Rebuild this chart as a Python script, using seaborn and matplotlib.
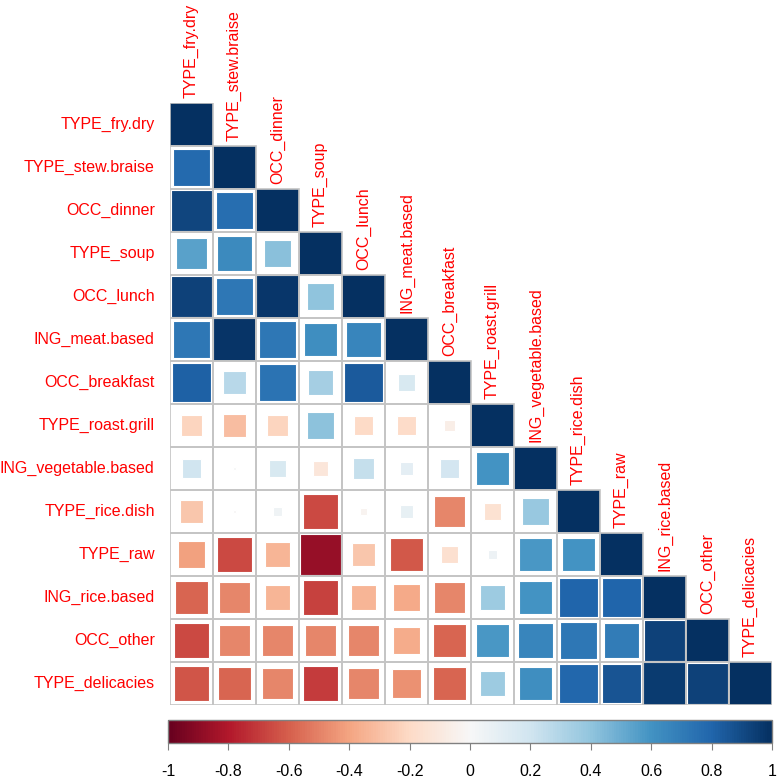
import numpy as np
import pandas as pd
import seaborn as sns
import matplotlib
matplotlib.use("Agg")
import matplotlib.pyplot as plt
from matplotlib.patches import Rectangle
from matplotlib.colors import ListedColormap, Normalize
from matplotlib.cm import ScalarMappable

labels = ["TYPE_fry.dry", "TYPE_stew.braise", "OCC_dinner", "TYPE_soup", "OCC_lunch",
          "ING_meat.based", "OCC_breakfast", "TYPE_roast.grill", "ING_vegetable.based",
          "TYPE_rice.dish", "TYPE_raw", "ING_rice.based", "OCC_other", "TYPE_delicacies"]

# lower-triangle correlations, one row per variable
r_fry_dry = [1.0]
r_stew_braise = [0.78, 1.0]
r_occ_dinner = [0.92, 0.76, 1.0]
r_soup = [0.54, 0.64, 0.42, 1.0]
r_occ_lunch = [0.93, 0.72, 0.97, 0.40, 1.0]
r_meat_based = [0.72, 0.98, 0.72, 0.62, 0.66, 1.0]
r_occ_breakfast = [0.82, 0.28, 0.74, 0.34, 0.84, 0.16, 1.0]
r_roast_grill = [-0.22, -0.31, -0.22, 0.41, -0.20, -0.19, -0.07, 1.0]
r_veg_based = [0.20, 0.005, 0.16, -0.12, 0.24, 0.10, 0.18, 0.60, 1.0]
r_rice_dish = [-0.28, -0.005, 0.04, -0.66, -0.03, 0.08, -0.49, -0.15, 0.38, 1.0]
r_raw = [-0.41, -0.66, -0.34, -0.87, -0.28, -0.62, -0.16, 0.05, 0.58, 0.60, 1.0]
r_rice_based = [-0.58, -0.49, -0.34, -0.68, -0.34, -0.38, -0.49, 0.36, 0.60, 0.80, 0.80, 1.0]
r_occ_other = [-0.66, -0.49, -0.49, -0.49, -0.49, -0.37, -0.58, 0.58, 0.66, 0.72, 0.70, 0.93, 1.0]
r_delicacies = [-0.63, -0.58, -0.49, -0.70, -0.49, -0.46, -0.58, 0.36, 0.62, 0.79, 0.86, 0.96, 0.93, 1.0]

rows = [r_fry_dry, r_stew_braise, r_occ_dinner, r_soup, r_occ_lunch, r_meat_based,
        r_occ_breakfast, r_roast_grill, r_veg_based, r_rice_dish, r_raw, r_rice_based,
        r_occ_other, r_delicacies]

n = len(labels)
mat = np.full((n, n), np.nan)
for i, row in enumerate(rows):
    for j, v in enumerate(row):
        mat[i, j] = v
        mat[j, i] = v
df = pd.DataFrame(mat, index=labels, columns=labels)
mask = np.triu(np.ones((n, n), dtype=bool), k=1)

sns.set_style("white")
plt.rcParams["font.family"] = ["Liberation Sans", "DejaVu Sans"]

fig = plt.figure(figsize=(7.77, 7.81), dpi=100)
W, H = 777, 781
ax = fig.add_axes([170 / W, (H - 705) / H, 602 / W, 602 / H])

# white background cells for the lower triangle
sns.heatmap(df, mask=mask, cmap=ListedColormap(["white"]), cbar=False,
            linewidths=0, ax=ax, square=False)

cmap = plt.get_cmap("RdBu")
norm = Normalize(-1, 1)
for i in range(n):
    for j in range(i + 1):
        v = df.iloc[i, j]
        s = np.sqrt(abs(v))
        ax.add_patch(Rectangle((j + 0.5 - s / 2, i + 0.5 - s / 2), s, s,
                               facecolor=cmap(norm(v)),
                               edgecolor="white" if i != j else "none",
                               linewidth=0.8, zorder=2))
        # grid cell border
        ax.add_patch(Rectangle((j, i), 1, 1, facecolor="none",
                               edgecolor="#c4c4c4", linewidth=1.2, zorder=3))

ax.set_xticks([])
ax.set_xlabel("")
ax.set_ylabel("")
ax.set_yticks(np.arange(n) + 0.5)
ax.set_yticklabels(labels, color="red", fontsize=11.5)
ax.tick_params(axis="y", length=0, pad=11)
for sp in ax.spines.values():
    sp.set_visible(False)

for j, lab in enumerate(labels):
    ax.text(j + 0.5, j - 0.12, lab, rotation=90, ha="center", va="bottom",
            color="red", fontsize=11.5, clip_on=False)

cax = fig.add_axes([168 / W, (H - 743) / H, 604 / W, 23 / H])
sm = ScalarMappable(norm=norm, cmap=cmap)
cb = fig.colorbar(sm, cax=cax, orientation="horizontal")
ticks = np.round(np.arange(-1, 1.01, 0.2), 1)
cb.set_ticks(ticks)
cb.set_ticklabels(["-1", "-0.8", "-0.6", "-0.4", "-0.2", "0", "0.2", "0.4", "0.6", "0.8", "1"])
cax.tick_params(axis="x", length=5, color="#808080", labelsize=11.5, pad=10, labelcolor="black")
cb.outline.set_edgecolor("#808080")
cb.outline.set_linewidth(1)

fig.savefig("out.png", dpi=100, facecolor="white")
